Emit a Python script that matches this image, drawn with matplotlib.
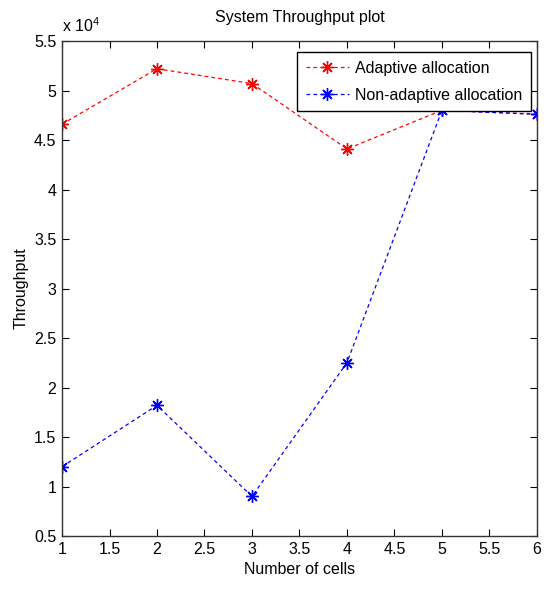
import matplotlib
matplotlib.use("Agg")
import matplotlib.pyplot as plt

plt.rcParams['font.family'] = ['Liberation Sans Narrow', 'Liberation Sans', 'DejaVu Sans']
plt.rcParams['mathtext.fontset'] = 'custom'
plt.rcParams['mathtext.rm'] = 'Liberation Sans'

cells = [1, 2, 3, 4, 5, 6]
adaptive = [46600, 52200, 50700, 44100, 48000, 47600]
non_adaptive = [12000, 18200, 9000, 22500, 48000, 47600]

fig = plt.figure(figsize=(5.44, 5.90), dpi=100)
ax = fig.add_axes([0.114, 0.0915, 0.873, 0.839])

star = (8, 2, 0)
ax.plot(cells, adaptive, color='red', linestyle=(0, (3, 2.5)), marker=star, markersize=9,
        markeredgewidth=1, linewidth=0.9, label='Adaptive allocation')
ax.plot(cells, non_adaptive, color='blue', linestyle=(0, (3, 2.5)), marker=star, markersize=9,
        markeredgewidth=1, linewidth=0.9, label='Non-adaptive allocation')

ax.set_xlim(1, 6)
ax.set_ylim(5000, 55000)
ax.set_xticks([1, 1.5, 2, 2.5, 3, 3.5, 4, 4.5, 5, 5.5, 6])
ax.set_xticklabels(['1', '1.5', '2', '2.5', '3', '3.5', '4', '4.5', '5', '5.5', '6'])
yt = [5000 * i for i in range(1, 12)]
ax.set_yticks(yt)
ax.set_yticklabels(['%g' % (v / 1e4) for v in yt])
ax.tick_params(direction='in', top=True, right=True, labelsize=11.5, length=5, pad=4)
for s in ax.spines.values():
    s.set_linewidth(1)
    s.set_color('#333333')

ax.text(0, 1.012, r'x 10$^4$', transform=ax.transAxes, fontsize=11.5, ha='left', va='bottom')
ax.set_title('System Throughput plot', fontsize=11.5, pad=14)
ax.set_xlabel('Number of cells', fontsize=11.5)
ax.set_ylabel('Throughput', fontsize=11.5)

leg = ax.legend(loc='upper right', bbox_to_anchor=(0.988, 0.978), borderaxespad=0,
                fontsize=11.5, fancybox=False, framealpha=1, edgecolor='black',
                handlelength=2.7, labelspacing=0.75, handletextpad=0.4, borderpad=0.55)
leg.get_frame().set_linewidth(1)

fig.savefig('out.png', dpi=100)
